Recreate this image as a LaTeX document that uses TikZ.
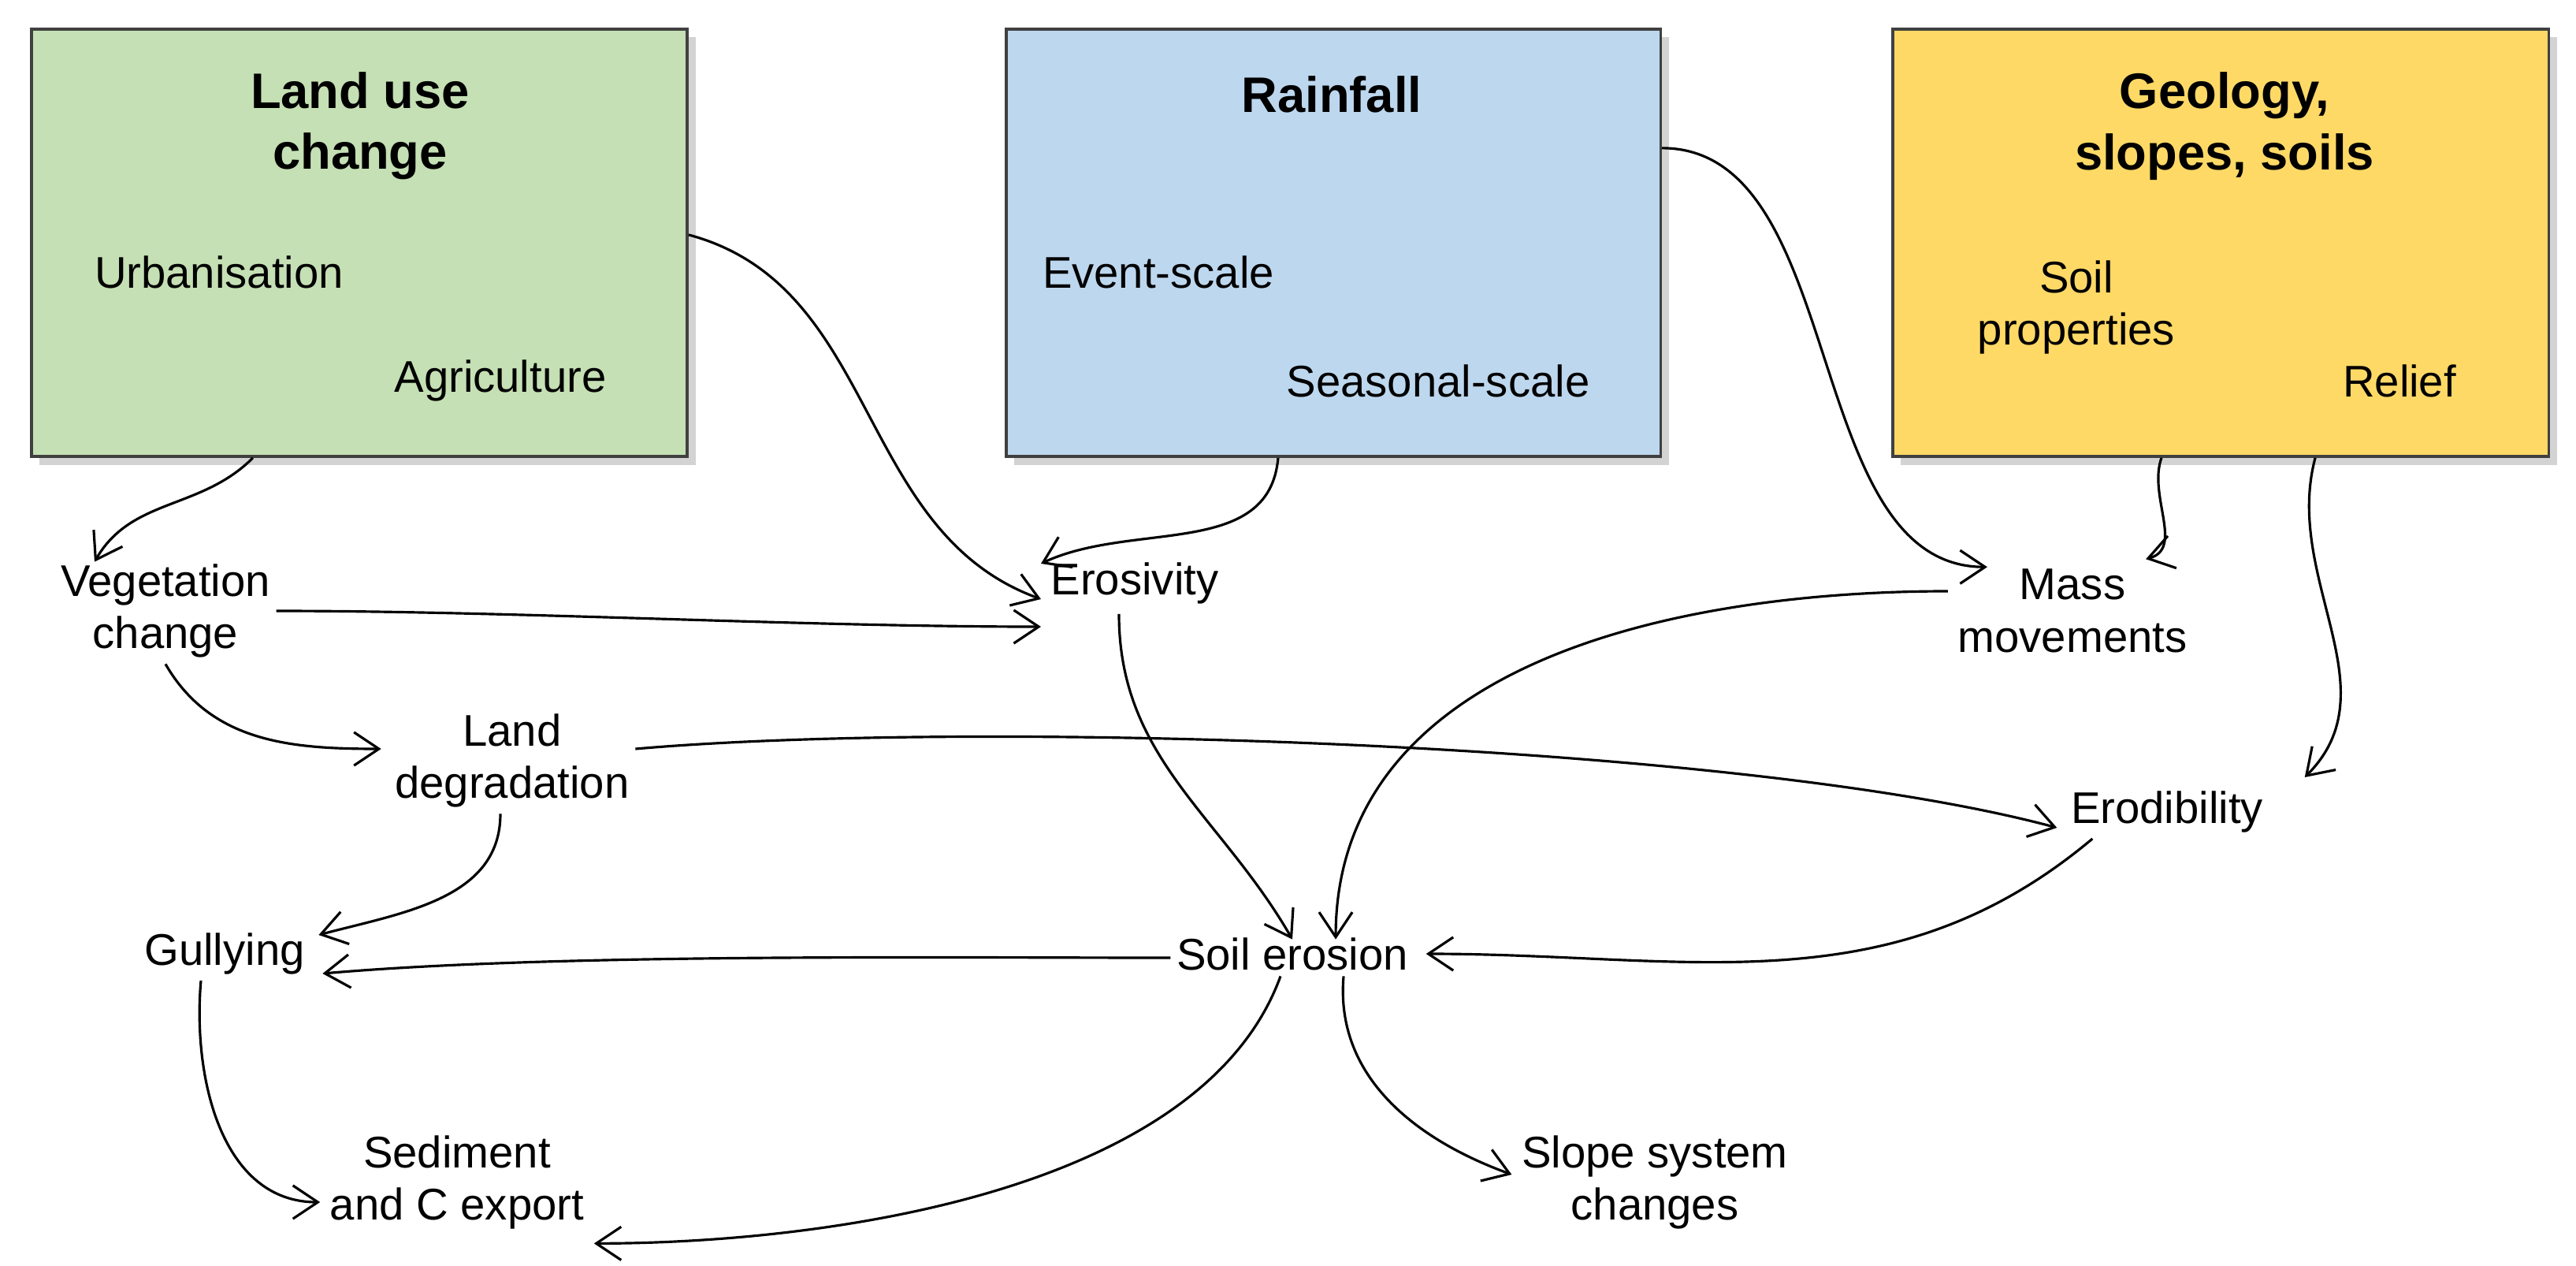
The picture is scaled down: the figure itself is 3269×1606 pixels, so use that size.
\documentclass[tikz,border=0pt]{standalone}
\usepackage{fontspec}
\setmainfont{Liberation Sans}
\usetikzlibrary{arrows.meta,shadows}
\definecolor{gbox}{HTML}{C5E0B4}
\definecolor{bbox}{HTML}{BDD7EE}
\definecolor{ybox}{HTML}{FFD966}
\begin{document}
\begin{tikzpicture}[x=0.01cm,y=-0.01cm,
  box/.style={draw=black!75,line width=1pt,drop shadow={shadow xshift=3pt,shadow yshift=-3pt,opacity=0.35}},
  lbl/.style={align=center,font=\fontsize{16}{19}\selectfont,inner sep=2pt},
  ttl/.style={align=center,font=\fontsize{18}{22}\selectfont\bfseries,inner sep=0pt},
  arr/.style={-{Straight Barb[length=9pt,width=12pt]},line width=0.9pt}]
\useasboundingbox (0,0) rectangle (3269,1606);
\node[box,fill=gbox,minimum width=8.32cm,minimum height=5.42cm,anchor=north west] (green) at (38,35) {};
\node[box,fill=bbox,minimum width=8.30cm,minimum height=5.42cm,anchor=north west] (blue) at (1275,35) {};
\node[box,fill=ybox,minimum width=8.32cm,minimum height=5.42cm,anchor=north west] (yellow) at (2400,35) {};
\node[ttl] (t1) at (457,160) {Land use\\change};
\node[ttl] (t2) at (1690,120) {Rainfall};
\node[ttl] (t3) at (2823,160) {Geology,\\slopes, soils};
\node[lbl] (urb) at (278,345) {Urbanisation};
\node[lbl] (agr) at (635,483) {Agriculture};
\node[lbl] (evt) at (1470,345) {Event-scale};
\node[lbl] (sea) at (1825,483) {Seasonal-scale};
\node[lbl] (soil) at (2635,390) {Soil\\properties};
\node[lbl] (rel) at (3045,483) {Relief};
\node[lbl] (veg) at (210,775) {Vegetation\\change};
\node[lbl] (ero) at (1440,740) {Erosivity};
\node[lbl] (mass) at (2630,775) {Mass\\movements};
\node[lbl] (land) at (650,965) {Land\\degradation};
\node[lbl] (erod) at (2750,1030) {Erodibility};
\node[lbl] (gul) at (285,1210) {Gullying};
\node[lbl] (se) at (1640,1210) {Soil erosion};
\node[lbl] (sed) at (580,1500) {Sediment\\and C export};
\node[lbl] (slope) at (2100,1500) {Slope system\\changes};
\draw[arr] ([xshift=-1.35cm]green.south) to[out=-135,in=60] ([xshift=-0.9cm,yshift=-0.05cm]veg.north);
\draw[arr] ([yshift=0.1cm]green.east) to[out=-15,in=160,looseness=1] ([xshift=-0.05cm,yshift=-0.2cm]ero.west);
\draw[arr] ([xshift=-0.7cm]blue.south) to[out=-95,in=25] ([xshift=-0.05cm,yshift=0.25cm]ero.west);
\draw[arr] ([yshift=1.2cm]blue.east) to[out=0,in=180,looseness=0.9] ([xshift=0.45cm,yshift=-0.05cm]mass.west |- mass.north west);
\draw[arr] ([xshift=-0.75cm]yellow.south) to[out=-110,in=15] ([xshift=-0.6cm,yshift=0.05cm]mass.east |- mass.north east);
\draw[arr] ([xshift=1.2cm]yellow.south) to[out=-105,in=45] ([xshift=0.45cm,yshift=0.1cm]erod.north east);
\draw[arr] (veg.east) to[out=0,in=180,looseness=0.8] ([xshift=-0.05cm,yshift=-0.2cm]ero.west |- veg.east);
\draw[arr] (veg.south) to[out=-60,in=180] ([xshift=-0.1cm,yshift=0.15cm]land.west);
\draw[arr] ([yshift=0.15cm]land.east) to[out=5,in=165,looseness=0.6] ([xshift=-0.1cm,yshift=-0.2cm]erod.west);
\draw[arr] ([xshift=-0.15cm]land.south) to[out=-90,in=15] ([xshift=0.1cm,yshift=-0.1cm]gul.north east);
\draw[arr] ([xshift=-0.2cm,yshift=-0.05cm]ero.south) to[out=-90,in=120] ([yshift=-0.1cm]se.north);
\draw[arr] ([xshift=-0.05cm,yshift=0.25cm]mass.west) to[out=180,in=90,looseness=1] ([xshift=0.55cm,yshift=-0.1cm]se.north);
\draw[arr] ([xshift=0.35cm]erod.south west) to[out=-140,in=0] ([xshift=0.15cm]se.east);
\draw[arr] ([yshift=-0.05cm]se.west) to[out=-180,in=5,looseness=0.7] ([xshift=0.15cm,yshift=-0.25cm]gul.east);
\draw[arr] ([xshift=-0.3cm]gul.south) to[out=-95,in=180] ([xshift=-0.05cm,yshift=-0.25cm]sed.west);
\draw[arr] ([xshift=-0.15cm]se.south) to[out=-110,in=0,looseness=0.8] ([xshift=0.05cm,yshift=-0.1cm]sed.east |- sed.south east);
\draw[arr] ([xshift=0.65cm]se.south) to[out=-95,in=160] ([xshift=-0.05cm,yshift=0.1cm]slope.west);
\end{tikzpicture}
\end{document}
